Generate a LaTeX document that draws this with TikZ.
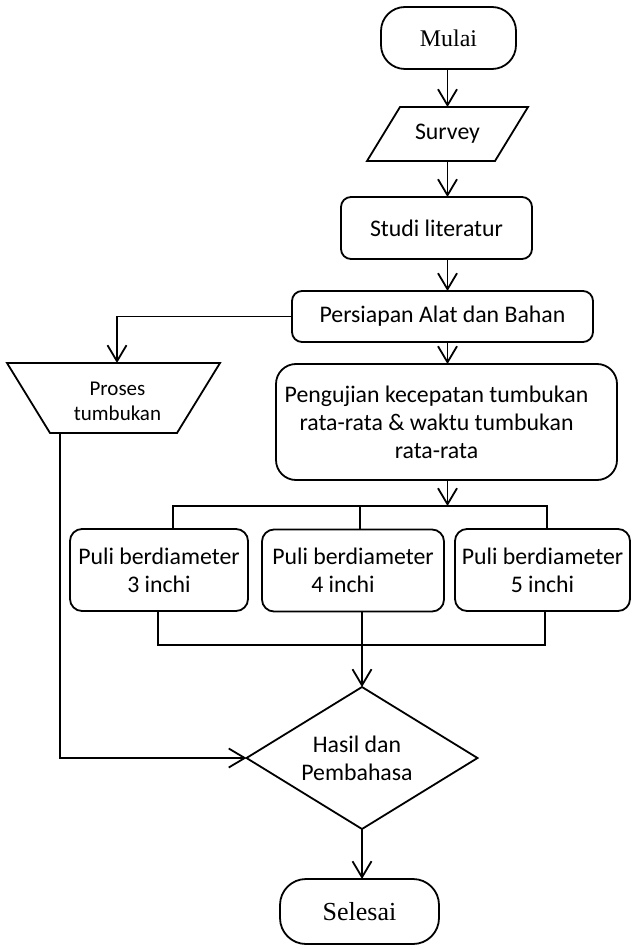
\documentclass[tikz,border=0pt]{standalone}
\usepackage{fontspec}
\setmainfont{Carlito}
\newfontfamily\timesfont{Liberation Serif}
\usetikzlibrary{arrows.meta,shapes.geometric}
\begin{document}
\begin{tikzpicture}[x=1pt,y=-1pt,
  every node/.style={inner sep=0pt, outer sep=0pt},
  base/.style={align=center, font=\fontsize{23.8}{28}\selectfont},
  terminal/.style={base, draw, line width=1.8pt, rounded corners=24pt, font=\timesfont\fontsize{23.9}{29}\selectfont},
  box/.style={base, draw, line width=1.8pt, rounded corners=10pt},
  ghost/.style={base},
  ln/.style={line width=1.8pt},
  arr/.style={line width=1.8pt, -{Straight Barb[length=16pt,width=19pt]}},
]
\useasboundingbox (0,0) rectangle (633,949);

\node[terminal, minimum width=135pt, minimum height=62pt] (mulai) at (448.5,38) {Mulai};

\node[ghost, minimum width=161pt, minimum height=54pt] (survey) at (447.5,134) {Survey};
\draw[ln] ([xshift=33pt]survey.north west) -- (survey.north east) -- ([xshift=-33pt]survey.south east) -- (survey.south west) -- cycle;

\node[box, minimum width=191pt, minimum height=62pt] (studi) at (436.5,228) {Studi literatur};
\node[box, minimum width=301pt, minimum height=51pt] (persiapan) at (442.5,316.5) {Persiapan Alat dan Bahan};
\node[box, rounded corners=20pt, minimum width=341pt, minimum height=116pt,
  label={[base, xshift=-10pt]center:Pengujian kecepatan tumbukan\\rata-rata \& waktu tumbukan\\rata-rata}] (pengujian) at (446.5,422) {};

\node[ghost, minimum width=213pt, minimum height=70pt,
  label={[font=\fontsize{21}{25}\selectfont, align=center, xshift=4pt, yshift=-3pt]center:Proses\\tumbukan}] (proses) at (113.5,398) {};
\draw[ln] (proses.north west) -- (proses.north east) -- ([xshift=-43pt]proses.south east) -- ([xshift=43pt]proses.south west) -- cycle;

\node[box, rounded corners=12pt, minimum width=178pt, minimum height=82pt] (puli3) at (159,570) {Puli berdiameter\\3 inchi};
\node[box, rounded corners=12pt, minimum width=182pt, minimum height=82pt] (puli4) at (353,570.5) {Puli berdiameter\\4 inchi\hspace*{20pt}};
\node[box, rounded corners=12pt, minimum width=175pt, minimum height=82pt] (puli5) at (542.5,570) {Puli berdiameter\\5 inchi};

\node[diamond, draw, line width=1.8pt, aspect=1.63, minimum width=231pt, minimum height=142pt,
  label={[base, xshift=-5pt]center:Hasil dan\\Pembahasa}] (hasil) at (362,758) {};

\node[terminal, rounded corners=26pt, font=\timesfont\fontsize{26}{30}\selectfont, minimum width=159pt, minimum height=65pt] (selesai) at (359.5,911.5) {Selesai};

\coordinate (axis) at (447.5,0);
\coordinate (tb) at (0,506);
\coordinate (bb) at (0,645);
\coordinate (r5) at ([xshift=4.5pt]puli5.north);
\coordinate (b5) at ([xshift=2.5pt]puli5.south);

\draw[arr] (mulai.south -| axis) -- (survey.north -| axis);
\draw[arr] (survey.south -| axis) -- (studi.north -| axis);
\draw[arr] (studi.south -| axis) -- (persiapan.north -| axis);
\draw[arr] (persiapan.south -| axis) -- (pengujian.north -| axis);
\draw[arr] (pengujian.south -| axis) -- (tb -| axis);
\draw[arr] (persiapan.west) -| ([xshift=3.5pt]proses.north);

\draw[ln] ([xshift=14pt]puli3.north) |- (r5 |- tb) -- (r5);
\draw[ln] ([xshift=7pt]puli4.north) -- ([xshift=7pt]puli4.north |- tb);
\draw[ln] ([xshift=-1pt]puli3.south) |- (b5 |- bb) -- (b5);
\draw[arr] (hasil.north |- puli4.south) -- (hasil.north);

\draw[arr] ([xshift=-53.5pt]proses.south) |- (hasil.west);
\draw[arr] (hasil.south) -- (hasil.south |- selesai.north);
\end{tikzpicture}
\end{document}
